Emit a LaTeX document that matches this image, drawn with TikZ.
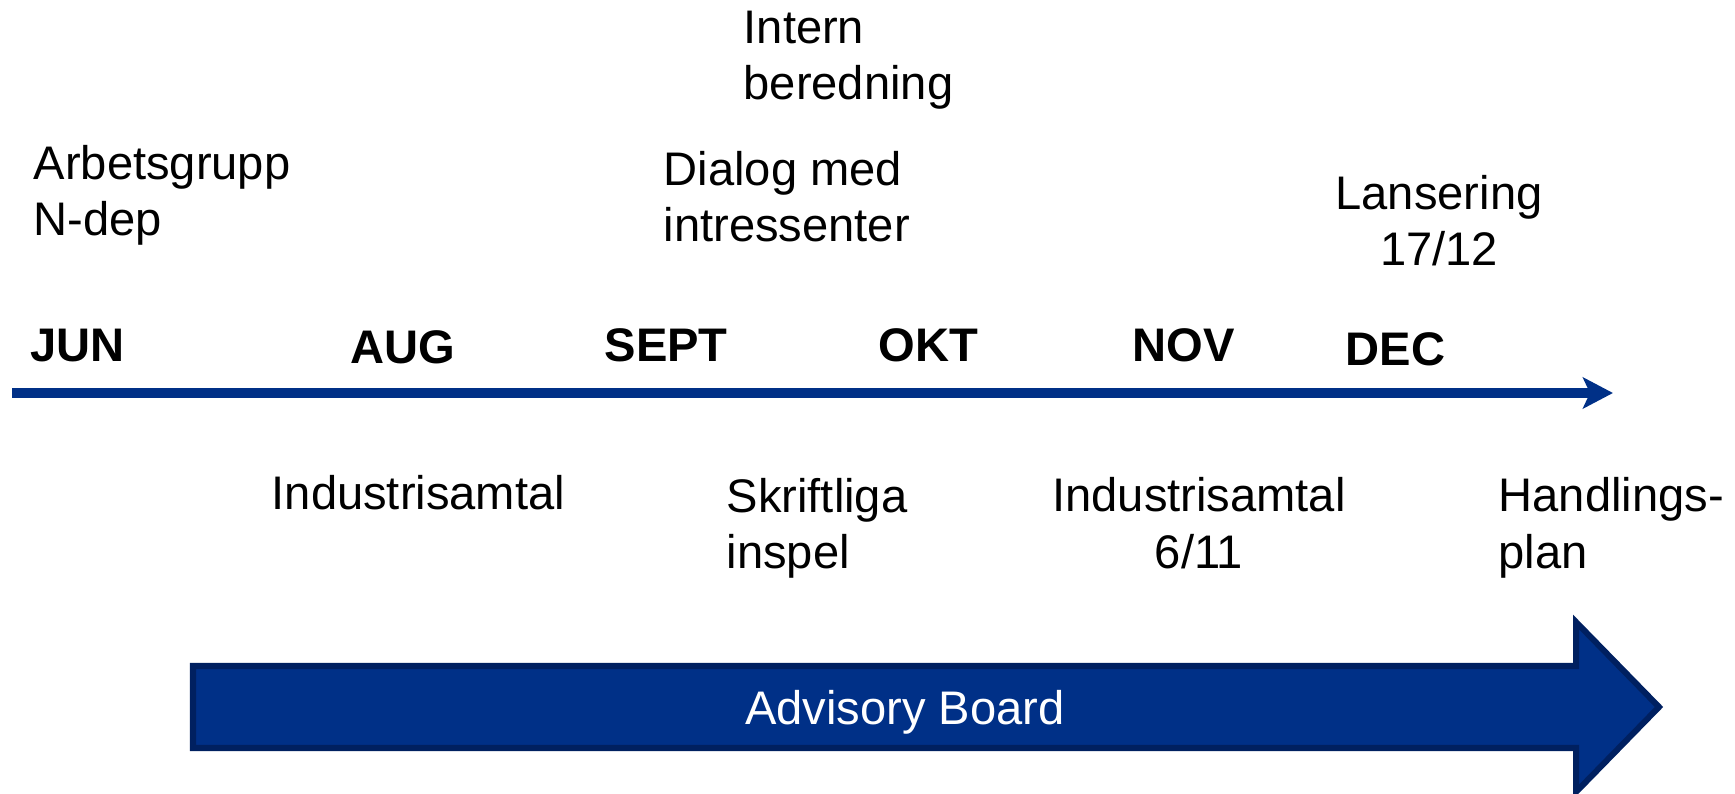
\documentclass[tikz,border=0pt]{standalone}
\usepackage{fontspec}
\setmainfont{Liberation Sans}
\usetikzlibrary{arrows.meta}
\definecolor{boardblue}{RGB}{0,48,135}
\definecolor{boardedge}{RGB}{0,32,96}

\begin{document}
\begin{tikzpicture}[x=0.01cm, y=-0.01cm,
	every node/.style={inner sep=0pt, font=\fontsize{13.4pt}{16.2pt}\selectfont},
	month/.style={anchor=base west, font=\fontsize{13.4pt}{16.2pt}\selectfont\bfseries},
	event/.style={anchor=base west, align=left},
	eventc/.style={anchor=base, align=center}]
\useasboundingbox (0,0) rectangle (1735,794);

%%%----------Tidslinje----------%%%
\coordinate (start) at (12,393)					;
\coordinate (slut) at (1613,393)				;
\draw [boardblue, line width=0.1cm, -{Stealth[length=0.3cm, width=0.31cm, inset=0.07cm]}] (start) -- (slut);

%%%----------Manader----------%%%
\node (jun) [month] at (30,362) {JUN}			;
\node (aug) [month] at (350,364) {AUG}			;
\node (sept) [month] at (604,362) {SEPT}		;
\node (okt) [month] at (878,362) {OKT}			;
\node (nov) [month] at (1132,362) {NOV}			;
\node (dec) [month] at (1345,366) {DEC}			;

%%%----------Ovanfor (baslinje = sista raden)----------%%%
\node (arbetsgrupp) [event] at (33,236) {Arbetsgrupp\\N-dep}		;
\node (intern) [event] at (743,100) {Intern\\beredning}				;
\node (dialog) [event] at (663,242) {Dialog med\\intressenter}		;
\node (lansering) [eventc] at (1439,266) {Lansering\\17/12}			;

%%%----------Nedanfor----------%%%
\node (industri) [event] at (271,510) {Industrisamtal}				;
\node (inspel) [event] at (726,569) {Skriftliga\\inspel}			;
\node (industri2) [eventc] at (1199,568) {Industrisamtal\\6/11}		;
\node (plan) [event] at (1498,568) {Handlings-\\plan}				;

%%%----------Advisory Board----------%%%
\draw [boardedge, line width=0.06cm, fill=boardblue]
	(193,666) -- (1576,666) -- (1576,622) -- (1659,707) -- (1576,792) -- (1576,748) -- (193,748) -- cycle;
\node (board) [anchor=base, text=white] at (905,725) {Advisory Board};

% \draw [help lines, step=100] (0,0) grid (1735,794);
\end{tikzpicture}
\end{document}
